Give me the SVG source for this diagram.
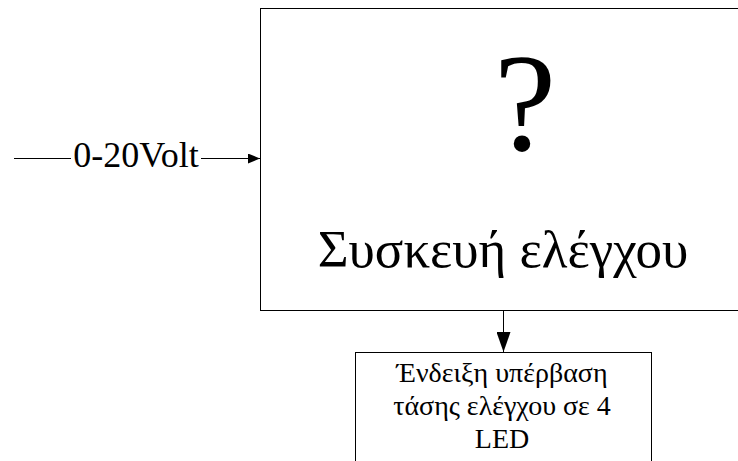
<svg xmlns="http://www.w3.org/2000/svg" width="738" height="461" viewBox="0 0 738 461">
<defs>
<style>
.box{fill:#fff;stroke:#000;stroke-width:1}
.ln{stroke:#000;stroke-width:1;fill:none}
.t{font-family:"Liberation Serif","Times New Roman",serif;fill:#000}
</style>
<marker id="ah" markerWidth="12" markerHeight="10" refX="12" refY="5" orient="auto" markerUnits="userSpaceOnUse">
<path d="M0,0 L12,5 L0,10 Z" fill="#000"/>
</marker>
<marker id="ahd" markerWidth="20" markerHeight="14" refX="20" refY="7" orient="auto" markerUnits="userSpaceOnUse">
<path d="M0,0 L20,7 L0,14 Z" fill="#000"/>
</marker>
</defs>
<rect width="738" height="461" fill="#fff"/>
<g id="main">
<rect class="box" x="260.5" y="8.5" width="486" height="302"/>
<text class="t" x="525" y="150" font-size="140" text-anchor="middle">?</text>
<text class="t" x="503" y="267" font-size="53" text-anchor="middle">Συσκευή ελέγχου</text>
</g>
<g id="led">
<rect class="box" x="355.5" y="352.5" width="296" height="120"/>
<text class="t" font-size="28" text-anchor="middle"><tspan x="502" y="382">Ένδειξη υπέρβαση</tspan><tspan x="502" y="415">τάσης ελέγχου σε 4</tspan><tspan x="502" y="448">LED</tspan></text>
</g>
<g id="input">
<text class="t" x="136" y="167" font-size="36" text-anchor="middle">0-20Volt</text>
</g>
<g id="connectors">
<line class="ln" x1="14" y1="158.5" x2="71" y2="158.5"/>
<line class="ln" x1="201" y1="158.5" x2="260" y2="158.5" marker-end="url(#ah)"/>
<line class="ln" x1="503.5" y1="311" x2="503.5" y2="352" marker-end="url(#ahd)"/>
</g>
</svg>
